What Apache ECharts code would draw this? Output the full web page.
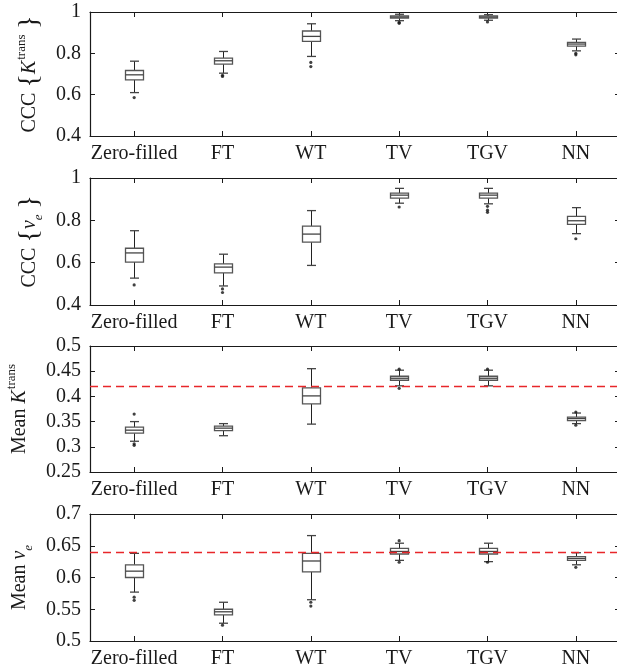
<!DOCTYPE html>
<html>
<head>
<meta charset="utf-8">
<script src="https://cdn.jsdelivr.net/npm/echarts@6/dist/echarts.min.js"></script>
<style>
html,body{margin:0;padding:0;background:#fff;}
#chart{width:617px;height:671px;}
</style>
</head>
<body>
<div id="chart"></div>
<script>
const categories = ['Zero-filled', 'FT', 'WT', 'TV', 'TGV', 'NN'];

// Each box: [lower whisker, Q1, median, Q3, upper whisker]
const cccKtransBoxes = [
  [0.610, 0.672, 0.696, 0.717, 0.762],
  [0.704, 0.748, 0.764, 0.777, 0.809],
  [0.785, 0.858, 0.882, 0.908, 0.943],
  [0.958, 0.971, 0.976, 0.981, 0.989],
  [0.960, 0.971, 0.976, 0.981, 0.987],
  [0.812, 0.835, 0.845, 0.853, 0.869]
];
const cccKtransOutliers = [
  [0, 0.586], [1, 0.694], [1, 0.688], [2, 0.756], [2, 0.736],
  [3, 0.950], [3, 0.945], [4, 0.952], [5, 0.800], [5, 0.793]
];

const cccVeBoxes = [
  [0.527, 0.603, 0.646, 0.668, 0.751],
  [0.490, 0.552, 0.579, 0.594, 0.640],
  [0.587, 0.697, 0.735, 0.773, 0.846],
  [0.881, 0.905, 0.919, 0.929, 0.951],
  [0.878, 0.905, 0.919, 0.929, 0.951],
  [0.737, 0.781, 0.798, 0.819, 0.860]
];
const cccVeOutliers = [
  [0, 0.495], [1, 0.476], [1, 0.459], [3, 0.863],
  [4, 0.866], [4, 0.848], [4, 0.838], [5, 0.713]
];

const meanKtransBoxes = [
  [0.311, 0.327, 0.333, 0.339, 0.350],
  [0.322, 0.332, 0.337, 0.341, 0.346],
  [0.345, 0.385, 0.401, 0.417, 0.455],
  [0.421, 0.432, 0.436, 0.440, 0.452],
  [0.421, 0.432, 0.436, 0.440, 0.452],
  [0.346, 0.352, 0.356, 0.359, 0.367]
];
const meanKtransOutliers = [
  [0, 0.365], [0, 0.306], [0, 0.303], [3, 0.454], [3, 0.416],
  [4, 0.454], [5, 0.369], [5, 0.343]
];
const meanKtransReference = 0.425;

const meanVeBoxes = [
  [0.577, 0.600, 0.610, 0.620, 0.638],
  [0.528, 0.541, 0.546, 0.550, 0.561],
  [0.565, 0.609, 0.626, 0.638, 0.666],
  [0.627, 0.637, 0.641, 0.646, 0.654],
  [0.625, 0.637, 0.641, 0.646, 0.654],
  [0.620, 0.627, 0.630, 0.633, 0.639]
];
const meanVeOutliers = [
  [0, 0.569], [0, 0.564], [1, 0.525], [2, 0.561], [2, 0.555],
  [3, 0.658], [3, 0.624], [4, 0.624], [5, 0.616]
];
const meanVeReference = 0.635;

const yRanges = [
  { min: 0.4, max: 1, interval: 0.2 },
  { min: 0.4, max: 1, interval: 0.2 },
  { min: 0.25, max: 0.5, interval: 0.05 },
  { min: 0.5, max: 0.7, interval: 0.05 }
];

const FONT = '"Liberation Serif", "DejaVu Serif", serif';
const INK = '#1a1a1a';

const gridBoxes = [
  { top: 12, height: 124 },
  { top: 178, height: 127 },
  { top: 346, height: 126 },
  { top: 514, height: 127 }
];

const richName = {
  n: { fontFamily: FONT, fontSize: 20, color: INK, verticalAlign: 'middle', lineHeight: 30 },
  b: { fontFamily: FONT, fontSize: 28, color: INK, verticalAlign: 'middle', lineHeight: 30 },
  i: { fontFamily: FONT, fontSize: 20, fontStyle: 'italic', color: INK, verticalAlign: 'middle', lineHeight: 30 },
  s: { fontFamily: FONT, fontSize: 13, color: INK, verticalAlign: 'top', lineHeight: 13, padding: [0, 0, 0, 1] },
  u: { fontFamily: FONT, fontSize: 13, fontStyle: 'italic', color: INK, verticalAlign: 'bottom', lineHeight: 13 }
};

const yNames = [
  '{n|CCC }{b|{}{i|K}{s|trans}{b|\u2009}',
  '{n|CCC }{b|{}{i|\u03BD}{u|e}{b|\u2009}',
  '{n|Mean }{i|K}{s|trans}',
  '{n|Mean }{i|\u03BD}{u|e}'
];
const yNameGaps = [44, 44, 55, 55];
const closingBrace = ['}', '}', '', ''];

function toBoxData(boxes) {
  return boxes.map((b, i) => [i, b[0], b[1], b[2], b[3], b[4]]);
}

function renderBox(params, api) {
  const i = api.value(0);
  const lo = api.coord([i, api.value(1)]);
  const q1 = api.coord([i, api.value(2)]);
  const md = api.coord([i, api.value(3)]);
  const q3 = api.coord([i, api.value(4)]);
  const hi = api.coord([i, api.value(5)]);
  const cx = Math.round(lo[0]) + 0.5;
  const hw = 9, cw = 4.5;
  const wStyle = { stroke: '#222', lineWidth: 1 };
  const bStyle = { stroke: '#555', lineWidth: 1.3, fill: '#fff' };
  return {
    type: 'group',
    children: [
      { type: 'line', shape: { x1: cx, y1: q1[1], x2: cx, y2: lo[1] }, style: wStyle },
      { type: 'line', shape: { x1: cx, y1: q3[1], x2: cx, y2: hi[1] }, style: wStyle },
      { type: 'line', shape: { x1: cx - cw, y1: lo[1], x2: cx + cw, y2: lo[1] }, style: { stroke: '#444', lineWidth: 1.3 } },
      { type: 'line', shape: { x1: cx - cw, y1: hi[1], x2: cx + cw, y2: hi[1] }, style: { stroke: '#444', lineWidth: 1.3 } },
      { type: 'rect', shape: { x: cx - hw, y: q3[1], width: 2 * hw, height: q1[1] - q3[1] }, style: bStyle },
      { type: 'line', shape: { x1: cx - hw, y1: md[1], x2: cx + hw, y2: md[1] }, style: { stroke: '#444', lineWidth: 1.3 } }
    ]
  };
}

const panels = [
  { boxes: cccKtransBoxes, outliers: cccKtransOutliers, ref: null },
  { boxes: cccVeBoxes, outliers: cccVeOutliers, ref: null },
  { boxes: meanKtransBoxes, outliers: meanKtransOutliers, ref: meanKtransReference },
  { boxes: meanVeBoxes, outliers: meanVeOutliers, ref: meanVeReference }
];

const grid = [], xAxis = [], yAxis = [], series = [];
const axisLine = { show: true, lineStyle: { color: INK, width: 1.2 } };
const xTick = { show: true, inside: true, alignWithLabel: true, interval: 0, length: 5, lineStyle: { color: INK } };

panels.forEach((p, k) => {
  grid.push({ left: 90, width: 530, top: gridBoxes[k].top, height: gridBoxes[k].height, containLabel: false, outerBoundsMode: 'none' });
  xAxis.push({
    type: 'category', gridIndex: k, data: categories, position: 'bottom',
    axisLine: axisLine, axisTick: xTick,
    axisLabel: { fontFamily: FONT, fontSize: 20, color: INK, margin: 8, interval: 0, hideOverlap: false },
    splitLine: { show: false }
  });
  xAxis.push({
    type: 'category', gridIndex: k, data: categories, position: 'top',
    axisLine: axisLine, axisTick: xTick,
    axisLabel: { show: false },
    splitLine: { show: false }
  });
  const yr = yRanges[k];
  yAxis.push({
    type: 'value', gridIndex: k, position: 'left', min: yr.min, max: yr.max, interval: yr.interval,
    axisLine: axisLine,
    axisTick: { show: true, inside: true, length: 5, lineStyle: { color: INK } },
    axisLabel: { fontFamily: FONT, fontSize: 20, color: INK, margin: 9,
      formatter: v => String(parseFloat(v.toFixed(2))) },
    splitLine: { show: false },
    name: yNames[k] + closingBrace[k],
    nameLocation: 'middle', nameRotate: 90, nameGap: yNameGaps[k],
    nameTextStyle: { fontFamily: FONT, fontSize: 28, color: INK, lineHeight: 30, rich: richName }
  });
  yAxis.push({
    type: 'value', gridIndex: k, position: 'right', min: yr.min, max: yr.max, interval: yr.interval,
    axisLine: axisLine,
    axisTick: { show: true, inside: true, length: 5, lineStyle: { color: INK } },
    axisLabel: { show: false },
    splitLine: { show: false }
  });
  const boxSeries = {
    type: 'custom', xAxisIndex: 2 * k, yAxisIndex: 2 * k,
    data: toBoxData(p.boxes),
    encode: { x: 0, y: [1, 2, 3, 4, 5] },
    renderItem: renderBox,
    silent: true, animation: false, z: 3
  };
  if (p.ref !== null) {
    boxSeries.markLine = {
      silent: true, symbol: 'none', animation: false,
      label: { show: false },
      lineStyle: { color: '#e8262a', type: [8, 5], width: 1.3 },
      data: [{ yAxis: p.ref }]
    };
  }
  series.push(boxSeries);
  series.push({
    type: 'scatter', xAxisIndex: 2 * k, yAxisIndex: 2 * k,
    data: p.outliers, symbol: 'circle', symbolSize: 3.2,
    itemStyle: { color: '#111' }, silent: true, animation: false, z: 4
  });
});

const chart = echarts.init(document.getElementById('chart'), null, { renderer: 'canvas' });
chart.setOption({ animation: false, backgroundColor: '#fff', grid, xAxis, yAxis, series });
</script>
</body>
</html>
